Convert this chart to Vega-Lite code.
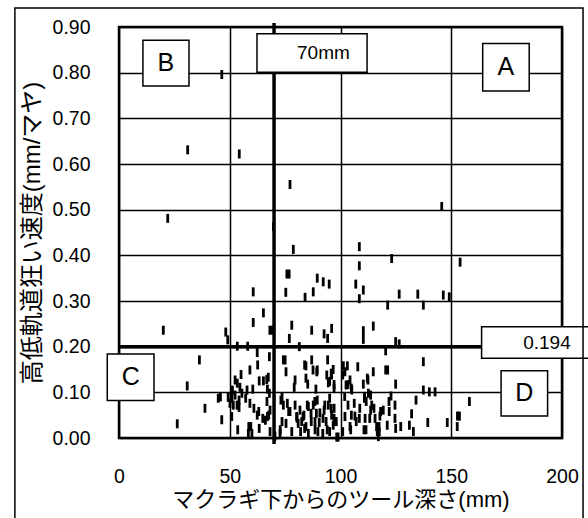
{
  "$schema": "https://vega.github.io/schema/vega-lite/v6.json",
  "width": 443,
  "height": 411,
  "autosize": {"type": "none"},
  "padding": {"left": 119, "top": 27, "right": 26, "bottom": 80},
  "background": "white",
  "config": {
    "view": {"stroke": "black", "strokeWidth": 2.5},
    "font": "Liberation Sans"
  },
  "datasets": {
    "points": [
      {"x":46.4,"y":0.796},{"x":31.0,"y":0.631},{"x":54.3,"y":0.622},{"x":77.2,"y":0.555},{"x":22.0,"y":0.481},
      {"x":145.7,"y":0.507},{"x":69.7,"y":0.463},{"x":78.7,"y":0.413},{"x":108.5,"y":0.419},{"x":123.1,"y":0.393},
      {"x":154.0,"y":0.385},{"x":108.5,"y":0.377},{"x":75.8,"y":0.359},{"x":76.8,"y":0.359},{"x":89.5,"y":0.350},
      {"x":92.2,"y":0.342},{"x":94.9,"y":0.337},{"x":106.9,"y":0.337},{"x":110.3,"y":0.324},{"x":87.7,"y":0.320},
      {"x":84.0,"y":0.308},{"x":126.5,"y":0.315},{"x":134.9,"y":0.315},{"x":146.4,"y":0.313},{"x":149.1,"y":0.309},
      {"x":108.5,"y":0.305},{"x":60.6,"y":0.320},{"x":75.3,"y":0.319},{"x":121.3,"y":0.291},{"x":137.4,"y":0.291},
      {"x":65.2,"y":0.274},{"x":60.6,"y":0.253},{"x":68.1,"y":0.236},{"x":69.0,"y":0.236},{"x":48.2,"y":0.232},
      {"x":20.0,"y":0.236},{"x":78.0,"y":0.247},{"x":76.9,"y":0.218},{"x":87.0,"y":0.236},{"x":92.6,"y":0.228},
      {"x":94.2,"y":0.218},{"x":96.0,"y":0.240},{"x":110.3,"y":0.235},{"x":114.8,"y":0.245},{"x":110.3,"y":0.216},
      {"x":124.9,"y":0.211},{"x":126.5,"y":0.206},{"x":49.1,"y":0.215},{"x":53.4,"y":0.201},{"x":58.1,"y":0.201},
      {"x":81.4,"y":0.200},{"x":120.4,"y":0.191},{"x":62.4,"y":0.187},{"x":67.9,"y":0.178},{"x":74.2,"y":0.171},
      {"x":75.0,"y":0.171},{"x":36.3,"y":0.171},{"x":87.0,"y":0.171},{"x":94.2,"y":0.171},{"x":137.4,"y":0.167},
      {"x":62.6,"y":0.160},{"x":84.4,"y":0.158},{"x":101.3,"y":0.158},{"x":103.1,"y":0.158},{"x":107.8,"y":0.156},
      {"x":59.1,"y":0.149},{"x":75.4,"y":0.145},{"x":89.3,"y":0.145},{"x":96.7,"y":0.150},{"x":102.0,"y":0.145},
      {"x":114.8,"y":0.145},{"x":120.4,"y":0.149},{"x":121.3,"y":0.149},{"x":55.1,"y":0.139},{"x":67.4,"y":0.133},
      {"x":93.8,"y":0.138},{"x":96.0,"y":0.138},{"x":101.0,"y":0.138},{"x":79.5,"y":0.127},{"x":84.4,"y":0.131},
      {"x":52.4,"y":0.127},{"x":104.3,"y":0.127},{"x":112.1,"y":0.131},{"x":63.3,"y":0.125},{"x":65.2,"y":0.125},
      {"x":66.7,"y":0.128},{"x":30.8,"y":0.114},{"x":53.4,"y":0.120},{"x":85.2,"y":0.118},{"x":88.9,"y":0.107},
      {"x":94.5,"y":0.121},{"x":79.1,"y":0.111},{"x":54.6,"y":0.111},{"x":124.9,"y":0.118},{"x":102.5,"y":0.116},
      {"x":110.3,"y":0.118},{"x":97.1,"y":0.109},{"x":137.4,"y":0.105},{"x":140.1,"y":0.101},{"x":142.7,"y":0.101},
      {"x":105.1,"y":0.105},{"x":51.2,"y":0.105},{"x":60.4,"y":0.107},{"x":67.0,"y":0.107},{"x":67.9,"y":0.098},
      {"x":52.4,"y":0.094},{"x":113.6,"y":0.094},{"x":112.6,"y":0.098},{"x":122.8,"y":0.092},{"x":44.8,"y":0.087},
      {"x":45.8,"y":0.090},{"x":49.3,"y":0.089},{"x":57.2,"y":0.087},{"x":110.8,"y":0.087},{"x":134.1,"y":0.083},
      {"x":158.2,"y":0.080},{"x":54.2,"y":0.083},{"x":73.1,"y":0.083},{"x":89.5,"y":0.083},{"x":50.1,"y":0.076},
      {"x":59.1,"y":0.076},{"x":76.0,"y":0.076},{"x":106.2,"y":0.076},{"x":51.6,"y":0.072},{"x":74.2,"y":0.072},
      {"x":79.5,"y":0.072},{"x":87.7,"y":0.072},{"x":94.5,"y":0.072},{"x":114.1,"y":0.072},{"x":124.6,"y":0.072},
      {"x":85.5,"y":0.069},{"x":54.2,"y":0.067},{"x":38.8,"y":0.065},{"x":60.9,"y":0.065},{"x":97.1,"y":0.065},
      {"x":68.2,"y":0.061},{"x":81.7,"y":0.061},{"x":92.6,"y":0.061},{"x":113.6,"y":0.061},{"x":119.3,"y":0.061},
      {"x":77.2,"y":0.058},{"x":122.0,"y":0.058},{"x":90.7,"y":0.055},{"x":86.7,"y":0.054},{"x":132.1,"y":0.053},
      {"x":62.4,"y":0.050},{"x":83.5,"y":0.050},{"x":96.0,"y":0.050},{"x":152.8,"y":0.048},{"x":153.7,"y":0.048},
      {"x":67.0,"y":0.047},{"x":80.2,"y":0.047},{"x":50.9,"y":0.047},{"x":102.0,"y":0.047},{"x":106.5,"y":0.048},
      {"x":117.8,"y":0.048},{"x":64.9,"y":0.043},{"x":97.1,"y":0.043},{"x":108.5,"y":0.043},{"x":111.1,"y":0.043},
      {"x":115.6,"y":0.043},{"x":124.6,"y":0.043},{"x":46.4,"y":0.040},{"x":82.5,"y":0.036},{"x":88.5,"y":0.036},
      {"x":93.5,"y":0.036},{"x":97.5,"y":0.036},{"x":139.4,"y":0.034},{"x":148.2,"y":0.034},{"x":90.4,"y":0.034},
      {"x":75.4,"y":0.032},{"x":80.9,"y":0.032},{"x":26.3,"y":0.031},{"x":96.7,"y":0.028},{"x":131.1,"y":0.028},
      {"x":121.1,"y":0.028},{"x":59.5,"y":0.025},{"x":84.4,"y":0.025},{"x":104.3,"y":0.025},{"x":116.3,"y":0.025},
      {"x":127.2,"y":0.025},{"x":152.7,"y":0.025},{"x":63.3,"y":0.021},{"x":53.6,"y":0.018},{"x":88.5,"y":0.018},
      {"x":94.0,"y":0.018},{"x":104.6,"y":0.018},{"x":110.6,"y":0.018},{"x":111.5,"y":0.018},{"x":68.2,"y":0.014},
      {"x":78.0,"y":0.014},{"x":82.0,"y":0.014},{"x":101.0,"y":0.014},{"x":117.5,"y":0.014},{"x":132.9,"y":0.014},
      {"x":58.4,"y":0.010},{"x":72.7,"y":0.010},{"x":85.5,"y":0.010},{"x":92.0,"y":0.010},{"x":70.4,"y":0.004},
      {"x":98.3,"y":0.002},{"x":117.1,"y":0.003},
      {"x":83.8,"y":0.160},{"x":87.6,"y":0.149},{"x":89.5,"y":0.149},{"x":95.8,"y":0.142},{"x":95.1,"y":0.124},
      {"x":97.1,"y":0.117},{"x":103.4,"y":0.117},{"x":104.9,"y":0.109},{"x":112.4,"y":0.127},{"x":110.9,"y":0.091},
      {"x":83.1,"y":0.047},{"x":85.0,"y":0.072},{"x":86.8,"y":0.036},{"x":88.4,"y":0.080},{"x":89.1,"y":0.054},
      {"x":92.1,"y":0.043},{"x":92.9,"y":0.072},{"x":95.1,"y":0.087},{"x":95.8,"y":0.065},{"x":98.1,"y":0.036},
      {"x":101.9,"y":0.091},{"x":103.4,"y":0.072},{"x":104.9,"y":0.050},{"x":107.1,"y":0.036},{"x":108.7,"y":0.065},
      {"x":111.6,"y":0.080},{"x":113.2,"y":0.043},{"x":115.1,"y":0.065},{"x":83.8,"y":0.021},{"x":89.8,"y":0.014},
      {"x":95.1,"y":0.014},{"x":98.9,"y":0.002},{"x":51.0,"y":0.087},{"x":53.3,"y":0.072},{"x":63.1,"y":0.058},
      {"x":66.1,"y":0.039},{"x":67.6,"y":0.050},{"x":66.8,"y":0.080},{"x":57.8,"y":0.105},{"x":73.6,"y":0.091},
      {"x":76.6,"y":0.058},{"x":80.4,"y":0.043},{"x":73.6,"y":0.036},{"x":72.8,"y":0.018},{"x":58.6,"y":0.025},
      {"x":60.0,"y":0.010},{"x":55.5,"y":0.098},{"x":121.9,"y":0.080},{"x":118.1,"y":0.058},{"x":117.4,"y":0.025},
      {"x":116.6,"y":0.014},{"x":124.9,"y":0.021}
    ],
    "boxes": [
      {"label":"B","x1":10.8,"x2":31.6,"y1":0.771,"y2":0.871,"tx":21.2,"ty":0.821,"size":"big"},
      {"label":"A","x1":164.2,"x2":185.2,"y1":0.760,"y2":0.864,"tx":174.7,"ty":0.812,"size":"big"},
      {"label":"C","x1":-5.3,"x2":15.8,"y1":0.082,"y2":0.184,"tx":5.3,"ty":0.133,"size":"big"},
      {"label":"D","x1":172.5,"x2":193.5,"y1":0.048,"y2":0.147,"tx":183.0,"ty":0.098,"size":"big"},
      {"label":"70mm","x1":62.3,"x2":112.0,"y1":0.801,"y2":0.885,"tx":92.3,"ty":0.843,"size":"small"},
      {"label":"0.194","x1":163.7,"x2":215.0,"y1":0.1745,"y2":0.2437,"tx":193.2,"ty":0.209,"size":"small"}
    ]
  },
  "layer": [
    {
      "data": {"name": "points"},
      "mark": {"type": "tick", "orient": "vertical", "size": 9, "thickness": 2.8, "color": "black", "opacity": 1},
      "encoding": {
        "x": {
          "field": "x", "type": "quantitative",
          "scale": {"domain": [0, 200], "nice": false, "zero": false},
          "axis": {
            "values": [0, 50, 100, 150, 200],
            "grid": true, "gridColor": "black", "gridWidth": 1.5, "gridOpacity": 1,
            "domain": false, "ticks": false, "tickSize": 0,
            "labelPadding": 29, "labelFontSize": 19.5, "labelColor": "black", "labelFont": "Liberation Sans",
            "labelFlush": false,
            "title": "マクラギ下からのツール深さ(mm)",
            "titleFont": "Liberation Sans, Noto Sans CJK JP", "titleFontSize": 22, "titleFontWeight": "normal",
            "titleColor": "black", "titlePadding": 4
          }
        },
        "y": {
          "field": "y", "type": "quantitative",
          "scale": {"domain": [0, 0.9], "nice": false, "zero": false},
          "axis": {
            "values": [0, 0.1, 0.2, 0.3, 0.4, 0.5, 0.6, 0.7, 0.8, 0.9],
            "format": ".2f",
            "grid": true, "gridColor": "black", "gridWidth": 1.5, "gridOpacity": 1,
            "domain": false, "ticks": false, "tickSize": 0,
            "labelPadding": 29, "labelFontSize": 19.5, "labelColor": "black", "labelFont": "Liberation Sans",
            "labelFlush": false,
            "title": "高低軌道狂い速度(mm/マヤ)",
            "titleFont": "Liberation Sans, Noto Sans CJK JP", "titleFontSize": 24, "titleFontWeight": "normal",
            "titleColor": "black", "titlePadding": 8
          }
        }
      }
    },
    {
      "data": {"values": [{}]},
      "mark": {"type": "rule", "color": "black", "strokeWidth": 3.5},
      "encoding": {
        "x": {"datum": 70, "type": "quantitative", "scale": {"domain": [0, 200], "nice": false, "zero": false}},
        "y": {"datum": -0.013, "type": "quantitative", "scale": {"domain": [0, 0.9], "nice": false, "zero": false}},
        "y2": {"datum": 0.909}
      }
    },
    {
      "data": {"values": [{}]},
      "mark": {"type": "rule", "color": "black", "strokeWidth": 3.5},
      "encoding": {
        "y": {"datum": 0.2, "type": "quantitative", "scale": {"domain": [0, 0.9], "nice": false, "zero": false}},
        "x": {"datum": 0, "type": "quantitative", "scale": {"domain": [0, 200], "nice": false, "zero": false}},
        "x2": {"datum": 163.7}
      }
    },
    {
      "data": {"name": "boxes"},
      "mark": {"type": "rect", "fill": "white", "stroke": "black", "strokeWidth": 1.5},
      "encoding": {
        "x": {"field": "x1", "type": "quantitative", "scale": {"domain": [0, 200], "nice": false, "zero": false}},
        "x2": {"field": "x2"},
        "y": {"field": "y1", "type": "quantitative", "scale": {"domain": [0, 0.9], "nice": false, "zero": false}},
        "y2": {"field": "y2"}
      }
    },
    {
      "data": {"name": "boxes"},
      "transform": [{"filter": "datum.size === 'big'"}],
      "mark": {"type": "text", "fontSize": 25, "font": "Liberation Sans", "color": "black", "align": "center", "baseline": "middle"},
      "encoding": {
        "x": {"field": "tx", "type": "quantitative", "scale": {"domain": [0, 200], "nice": false, "zero": false}},
        "y": {"field": "ty", "type": "quantitative", "scale": {"domain": [0, 0.9], "nice": false, "zero": false}},
        "text": {"field": "label"}
      }
    },
    {
      "data": {"name": "boxes"},
      "transform": [{"filter": "datum.size === 'small'"}],
      "mark": {"type": "text", "fontSize": 19, "font": "Liberation Sans", "color": "black", "align": "center", "baseline": "middle"},
      "encoding": {
        "x": {"field": "tx", "type": "quantitative", "scale": {"domain": [0, 200], "nice": false, "zero": false}},
        "y": {"field": "ty", "type": "quantitative", "scale": {"domain": [0, 0.9], "nice": false, "zero": false}},
        "text": {"field": "label"}
      }
    },
    {
      "data": {"values": [{}]},
      "mark": {"type": "rect", "fill": null, "fillOpacity": 0, "stroke": "black", "strokeWidth": 1.5},
      "encoding": {
        "x": {"datum": -47, "type": "quantitative", "scale": {"domain": [0, 200], "nice": false, "zero": false}},
        "x2": {"datum": 209.5},
        "y": {"datum": -0.3, "type": "quantitative", "scale": {"domain": [0, 0.9], "nice": false, "zero": false}},
        "y2": {"datum": 0.9415}
      }
    }
  ]
}
